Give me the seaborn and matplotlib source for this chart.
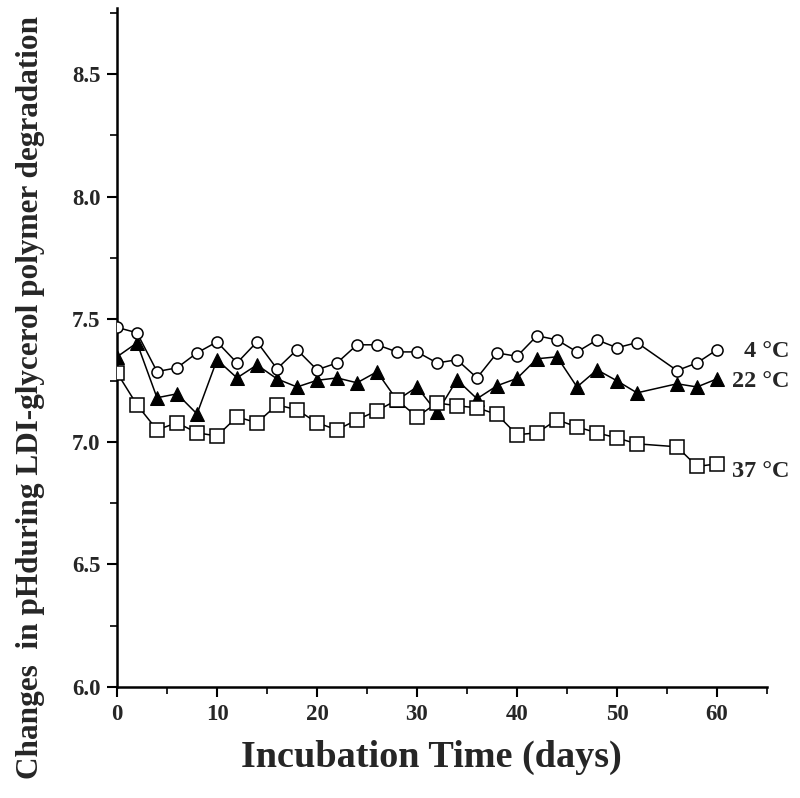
import pandas as pd
import seaborn as sns
import matplotlib.pyplot as plt
from matplotlib.ticker import MultipleLocator

# incubation days (no reading on day 54)
days = [0, 2, 4, 6, 8, 10, 12, 14, 16, 18, 20, 22, 24, 26, 28, 30,
        32, 34, 36, 38, 40, 42, 44, 46, 48, 50, 52, 56, 58, 60]

ph_4c = [7.467, 7.445, 7.287, 7.302, 7.363, 7.408, 7.322, 7.408, 7.298, 7.376,
         7.294, 7.322, 7.396, 7.396, 7.367, 7.367, 7.322, 7.335, 7.261, 7.363,
         7.349, 7.433, 7.416, 7.367, 7.416, 7.384, 7.405, 7.291, 7.322, 7.376]

ph_22c = [7.347, 7.404, 7.180, 7.196, 7.114, 7.335, 7.261, 7.314, 7.257, 7.224,
          7.251, 7.261, 7.241, 7.286, 7.170, 7.224, 7.120, 7.253, 7.176, 7.229,
          7.259, 7.339, 7.347, 7.224, 7.294, 7.249, 7.200, 7.237, 7.224, 7.257]

ph_37c = [7.282, 7.151, 7.049, 7.078, 7.037, 7.024, 7.102, 7.078, 7.151, 7.131,
          7.078, 7.049, 7.090, 7.127, 7.171, 7.102, 7.159, 7.147, 7.139, 7.112,
          7.029, 7.037, 7.090, 7.061, 7.037, 7.016, 6.992, 6.980, 6.900, 6.910]

labels = ['4 °C', '22 °C', '37 °C']

sns.set_style('ticks')
plt.rcParams['font.family'] = ['Liberation Serif', 'DejaVu Serif']
plt.rcParams['font.weight'] = 'bold'

fig = plt.figure(figsize=(8, 7.98), dpi=100)
ax = fig.add_axes([117 / 800, 111 / 798, 650 / 800, 679 / 798])

# 4 °C open circles
df4 = pd.DataFrame({'day': days, 'ph': ph_4c})
sns.lineplot(data=df4, x='day', y='ph', ax=ax, color='black', lw=1.1,
             marker='o', markersize=8, markerfacecolor='white',
             markeredgecolor='black', markeredgewidth=1.1, zorder=3)

# 22 °C filled triangles
df22 = pd.DataFrame({'day': days, 'ph': ph_22c})
sns.lineplot(data=df22, x='day', y='ph', ax=ax, color='black', lw=1.1,
             marker='^', markersize=10, markerfacecolor='black',
             markeredgecolor='black', zorder=2)

# 37 °C open squares
df37 = pd.DataFrame({'day': days, 'ph': ph_37c})
sns.lineplot(data=df37, x='day', y='ph', ax=ax, color='black', lw=1.1,
             marker='s', markersize=10.5, markerfacecolor='white',
             markeredgecolor='black', markeredgewidth=1.1, zorder=4)

# series labels at right end
ax.text(67.3, 7.367, labels[0], ha='right', va='center', fontsize=17.5,
        fontweight='bold', clip_on=False)
ax.text(67.3, 7.245, labels[1], ha='right', va='center', fontsize=17.5,
        fontweight='bold', clip_on=False)
ax.text(67.3, 6.878, labels[2], ha='right', va='center', fontsize=17.5,
        fontweight='bold', clip_on=False)

ax.set_xlim(0, 65)
ax.set_ylim(6.0, 8.77)
ax.xaxis.set_major_locator(MultipleLocator(10))
ax.xaxis.set_minor_locator(MultipleLocator(5))
ax.yaxis.set_major_locator(MultipleLocator(0.5))
ax.yaxis.set_minor_locator(MultipleLocator(0.25))
ax.set_yticks([6.0, 6.5, 7.0, 7.5, 8.0, 8.5])
ax.set_yticklabels(['6.0', '6.5', '7.0', '7.5', '8.0', '8.5'])

ax.tick_params(which='major', direction='out', length=7, width=1.5,
               labelsize=16.5, pad=5, color='black')
ax.tick_params(which='minor', direction='out', length=5, width=1.2,
               color='black')
for lab in ax.get_xticklabels() + ax.get_yticklabels():
    lab.set_fontweight('bold')

sns.despine(ax=ax)
ax.spines['left'].set_linewidth(1.8)
ax.spines['bottom'].set_linewidth(1.8)
ax.spines['left'].set_color('black')
ax.spines['bottom'].set_color('black')

ax.set_xlabel('Incubation Time (days)', fontsize=27.5, fontweight='bold')
ax.set_ylabel('Changes  in pHduring LDI-glycerol polymer degradation',
              fontsize=22.5, fontweight='bold')
ax.xaxis.set_label_coords(0.483, -0.078)
ax.yaxis.set_label_coords(-0.111, 0.427)

plt.savefig('out.png', dpi=100)
plt.close()
